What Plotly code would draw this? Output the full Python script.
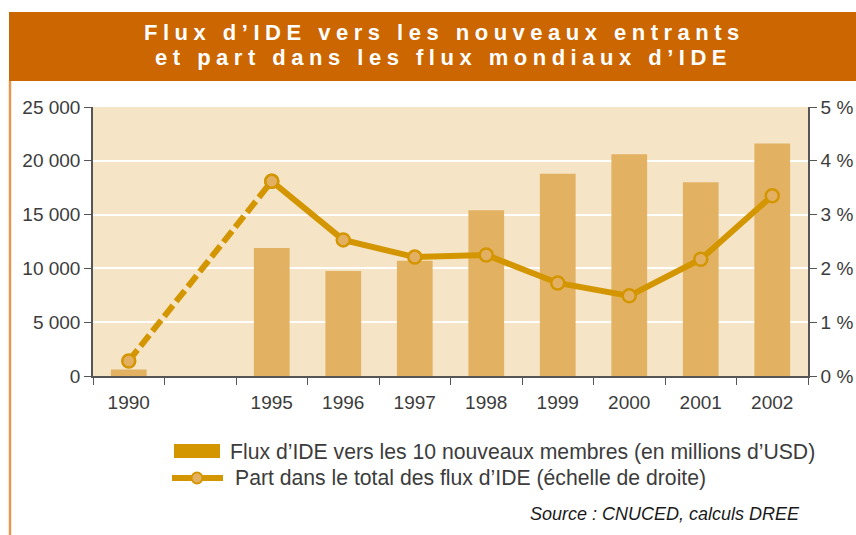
import plotly.graph_objects as go

# ---- data ----
categories = ["1990", " ", "1995", "1996", "1997", "1998", "1999", "2000", "2001", "2002"]
bar_years = ["1990", "1995", "1996", "1997", "1998", "1999", "2000", "2001", "2002"]
fdi_flows = [600, 11900, 9750, 10700, 15400, 18800, 20600, 18000, 21600]
share_dashed_years = ["1990", "1995"]
share_dashed = [0.28, 3.62]
share_years = ["1995", "1996", "1997", "1998", "1999", "2000", "2001", "2002"]
share = [3.62, 2.53, 2.21, 2.25, 1.73, 1.49, 2.17, 3.35]
left_ticks = [0, 5000, 10000, 15000, 20000, 25000]
right_ticks = [0, 1, 2, 3, 4, 5]
right_ticktext = ["0 %", "1 %", "2 %", "3 %", "4 %", "5 %"]

W, H = 856, 535
L, R, T, B = 93, 808, 107, 376  # plot area in page pixels

def px(x):
    return (x - L) / (R - L)

def py(y):
    return (B - y) / (B - T)

BAR = "#e2b262"
LINE = "#d49600"
BG = "#f5e4c6"
TXT = "#3c3c3c"
FONT = "Liberation Sans"
MFILL = "#e3b062"

fig = go.Figure()
fig.add_trace(go.Bar(x=bar_years, y=fdi_flows, marker=dict(color=BAR, line=dict(width=0)),
                     showlegend=False, yaxis="y"))
fig.add_trace(go.Scatter(x=share_dashed_years, y=share_dashed, yaxis="y2", mode="lines+markers",
                         line=dict(color=LINE, width=6, dash="14px,5px"),
                         marker=dict(size=13, color=MFILL, line=dict(color=LINE, width=2.5)),
                         showlegend=False))
fig.add_trace(go.Scatter(x=share_years, y=share, yaxis="y2", mode="lines+markers",
                         line=dict(color=LINE, width=6),
                         marker=dict(size=13, color=MFILL, line=dict(color=LINE, width=2.5)),
                         showlegend=False))

fig.update_layout(
    width=W, height=H,
    margin=dict(l=L, r=W - R, t=T, b=H - B, pad=0, autoexpand=False),
    paper_bgcolor="white", plot_bgcolor=BG,
    separators=", ",
    bargap=0.5,
    font=dict(family=FONT, size=19, color=TXT),
    xaxis=dict(type="category", categoryorder="array", categoryarray=categories,
               tickvals=categories, ticktext=[c.strip() for c in categories],
               tickson="boundaries", ticks="outside", ticklen=7, tickcolor="#555",
               ticklabelstandoff=8,
               showline=True, linecolor="#555", linewidth=1.5, showgrid=False,
               tickfont=dict(size=19, color=TXT), range=[-0.5, 9.5]),
    yaxis=dict(range=[0, 25000], tickvals=left_ticks, tickformat=",d",
               ticks="outside", ticklen=7, tickcolor="#555",
               showline=True, linecolor="#555", linewidth=1.5,
               gridcolor="white", gridwidth=1.5, zeroline=False,
               tickfont=dict(size=19, color=TXT)),
    yaxis2=dict(range=[0, 5], tickvals=right_ticks, ticktext=right_ticktext,
                overlaying="y", side="right",
                ticks="outside", ticklen=7, tickcolor="#555",
                showline=True, linecolor="#555", linewidth=1.5, showgrid=False, zeroline=False,
                tickfont=dict(size=19, color=TXT)),
    showlegend=False,
)

shapes = []
# title bar
shapes.append(dict(type="rect", xref="paper", yref="paper", x0=px(9), x1=px(W + 5), y0=py(81), y1=py(12),
                   fillcolor="#cc6600", line=dict(width=0), layer="above"))
# left border line
shapes.append(dict(type="line", xref="paper", yref="paper", x0=px(10), x1=px(10), y0=py(81), y1=py(H + 5),
                   line=dict(color="#e39a50", width=2.5)))
# legend swatches
shapes.append(dict(type="rect", xref="paper", yref="paper", x0=px(174), x1=px(220), y0=py(458), y1=py(444),
                   fillcolor=LINE, line=dict(width=0)))
shapes.append(dict(type="line", xref="paper", yref="paper", x0=px(172), x1=px(223), y0=py(478), y1=py(478),
                   line=dict(color=LINE, width=6)))
shapes.append(dict(type="circle", xref="paper", yref="paper", x0=px(191.5), x1=px(202.5), y0=py(483.5), y1=py(472.5),
                   fillcolor=MFILL, line=dict(color=LINE, width=2)))
fig.update_layout(shapes=shapes)

def tracked(s, sp="\u2005"):
    return sp.join(list(s))

ann = []
ann.append(dict(text="<b>" + tracked("Flux d’IDE vers les nouveaux entrants") + "</b>", x=px(441), y=py(32),
                xref="paper", yref="paper",
                showarrow=False, font=dict(family=FONT, size=22, color="white"), xanchor="center", yanchor="middle"))
ann.append(dict(text="<b>" + tracked("et part dans les flux mondiaux d’IDE") + "</b>", x=px(440), y=py(57),
                xref="paper", yref="paper",
                showarrow=False, font=dict(family=FONT, size=22, color="white"), xanchor="center", yanchor="middle"))
ann.append(dict(text="Flux d’IDE vers les 10 nouveaux membres (en millions d’USD)", x=px(228), y=py(452),
                xref="paper", yref="paper", showarrow=False, xanchor="left", yanchor="middle",
                font=dict(family=FONT, size=21.2, color=TXT)))
ann.append(dict(text="Part dans le total des flux d’IDE (échelle de droite)", x=px(233), y=py(478),
                xref="paper", yref="paper", showarrow=False, xanchor="left", yanchor="middle",
                font=dict(family=FONT, size=21.2, color=TXT)))
ann.append(dict(text="<i>Source : CNUCED, calculs DREE</i>", x=px(802), y=py(514),
                xref="paper", yref="paper", showarrow=False, xanchor="right", yanchor="middle",
                font=dict(family=FONT, size=18, color="#1a1a1a")))
fig.update_layout(annotations=ann)

fig.write_html("out.html", config={"responsive": False, "displayModeBar": False},
               post_script="document.body.style.margin='0';document.body.style.overflow='hidden';")
